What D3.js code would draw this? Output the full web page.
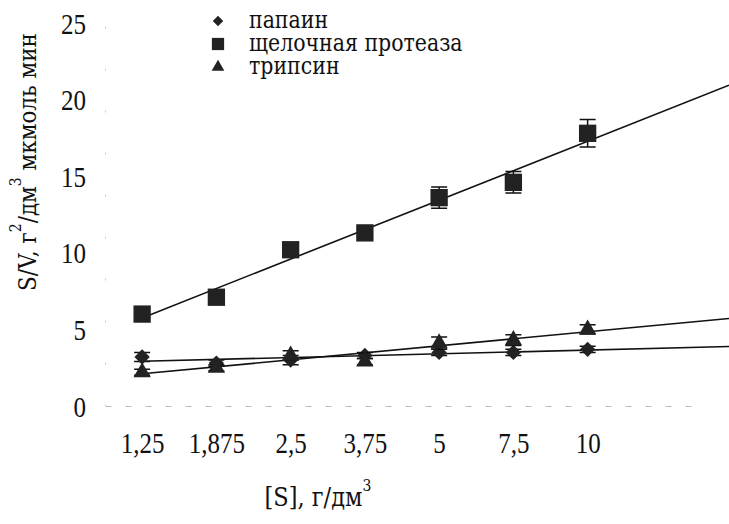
<!DOCTYPE html>
<html>
<head>
<meta charset="utf-8">
<script src="https://cdn.jsdelivr.net/npm/d3@7"></script>
<style>
  body { margin: 0; background: #fff; }
</style>
</head>
<body>
<script>
  "use strict";

  // categories on the x axis, [S] in g/dm3
  var categories = ["1,25", "1,875", "2,5", "3,75", "5", "7,5", "10"];

  // S/V values and error bars
  var papain      = [3.2, 2.8, 3.0, 3.3, 3.5, 3.5, 3.7];
  var papainErr   = [0.3, 0.2, 0.3, 0.2, 0.2, 0.2, 0.2];
  var protease    = [6.0, 7.1, 10.2, 11.3, 13.6, 14.6, 17.8];
  var proteaseErr = [0.3, 0.3, 0.3, 0.3, 0.7, 0.7, 0.9];
  var trypsin     = [2.2, 2.5, 3.3, 2.9, 4.1, 4.3, 5.0];
  var trypsinErr  = [0.2, 0.2, 0.3, 0.2, 0.4, 0.35, 0.3];

  var yTicks = [0, 5, 10, 15, 20, 25];

  var width = 729, height = 524;
  var serif = "'Tinos'";            // digits
  var cyr = "'DejaVu Serif'";       // texts with cyrillic letters

  var svg = d3.select("body")
    .append("svg")
      .attr("width", width)
      .attr("height", height);

  // index based x scale: one slot per category, an empty slot at the end
  var x = d3.scaleLinear().domain([-0.5, 7.5]).range([105, 699]);
  var y = d3.scaleLinear().domain([0, 25]).range([406, 23]);

  // faint scanned axes
  var xAxis = d3.axisBottom(x)
    .tickValues(d3.range(categories.length))
    .tickFormat(function(i) { return categories[i]; })
    .tickSize(0);
  var gx = svg.append("g")
    .attr("transform", "translate(0," + y(0) + ")")
    .call(xAxis);
  gx.attr("font-family", null);
  gx.select(".domain")
    .attr("stroke", "#bbb")
    .attr("stroke-dasharray", "6,14");
  gx.selectAll("text")
    .attr("y", null).attr("dy", null)
    .attr("transform", "translate(0,47) scale(1,1.2)")
    .style("font-size", "25px")
    .style("font-family", serif)
    .style("fill", "#111");

  var yAxis = d3.axisLeft(y).tickValues(yTicks).tickSize(0);
  var gy = svg.append("g")
    .attr("transform", "translate(" + x(-0.5) + ",0)")
    .call(yAxis);
  gy.attr("font-family", null);
  gy.select(".domain")
    .attr("stroke", "#ccc")
    .attr("stroke-dasharray", "2,40");
  gy.selectAll("text")
    .attr("x", null).attr("dy", null)
    .attr("transform", "translate(-19,10) scale(1,1.2)")
    .style("font-size", "25px")
    .style("font-family", serif)
    .style("fill", "#111");

  // series
  var series = [
    { name: "папаин", values: papain, err: papainErr, symbol: d3.symbolDiamond2, size: 150 },
    { name: "щелочная протеаза", values: protease, err: proteaseErr, symbol: d3.symbolSquare, size: 300 },
    { name: "трипсин", values: trypsin, err: trypsinErr, symbol: d3.symbolTriangle, size: 130 }
  ];

  // least squares trend line over category index, drawn to the right edge
  function fit(vals) {
    var n = vals.length, mx = (n - 1) / 2, my = d3.mean(vals);
    var sxy = d3.sum(vals, function(v, i) { return (i - mx) * (v - my); });
    var sxx = d3.sum(vals, function(v, i) { return (i - mx) * (i - mx); });
    var b = sxy / sxx;
    return function(i) { return my + b * (i - mx); };
  }

  var xEnd = x.invert(width);
  var line = d3.line()
    .x(function(d) { return x(d[0]); })
    .y(function(d) { return y(d[1]); });

  series.forEach(function(s) {
    var f = fit(s.values);
    svg.append("path")
      .attr("d", line([[0, f(0)], [xEnd, f(xEnd)]]))
      .attr("fill", "none")
      .attr("stroke", "#111")
      .attr("stroke-width", 1.6);

    var g = svg.append("g");
    var pts = s.values.map(function(v, i) { return { i: i, v: v, e: s.err[i] }; });

    // error bars
    g.selectAll(".err")
      .data(pts).enter()
      .append("path")
        .attr("d", function(d) {
          var cx = x(d.i), t = y(d.v + d.e), b = y(d.v - d.e);
          return "M" + (cx - 8) + "," + t + "H" + (cx + 8) +
                 "M" + cx + "," + t + "V" + b +
                 "M" + (cx - 8) + "," + b + "H" + (cx + 8);
        })
        .attr("stroke", "#111")
        .attr("stroke-width", 1.5)
        .attr("fill", "none");

    g.selectAll(".mark")
      .data(pts).enter()
      .append("path")
        .attr("transform", function(d) { return "translate(" + x(d.i) + "," + y(d.v) + ")"; })
        .attr("d", d3.symbol().type(s.symbol).size(s.size))
        .attr("fill", "#222");
  });

  // legend
  var legend = svg.append("g").attr("transform", "translate(218,0)");
  var rows = [21, 44, 67];
  series.forEach(function(s, k) {
    legend.append("path")
      .attr("transform", "translate(0," + rows[k] + ")")
      .attr("d", d3.symbol().type(s.symbol).size(k === 1 ? 150 : 70))
      .attr("fill", "#222");
    legend.append("text")
      .attr("transform", "translate(31," + (rows[k] + 7) + ") scale(1,1.15)")
      .style("font-family", cyr)
      .style("font-size", "20.5px")
      .style("fill", "#111")
      .text(s.name);
  });

  // axis titles
  var xt = svg.append("text")
    .attr("transform", "translate(318,506) scale(1,1.15)")
    .attr("text-anchor", "middle")
    .style("font-family", cyr)
    .style("font-size", "22.5px")
    .style("fill", "#111");
  xt.append("tspan").text("[S], г/дм");
  xt.append("tspan").attr("dy", -13).style("font-size", "14px").text("3");

  var yt = svg.append("text")
    .attr("transform", "translate(36,162) rotate(-90) scale(1,1.15)")
    .attr("text-anchor", "middle")
    .style("font-family", cyr)
    .style("font-size", "21.5px")
    .style("fill", "#111");
  yt.append("tspan").text("S/V, г");
  yt.append("tspan").attr("dy", -13).style("font-size", "14px").text("2");
  yt.append("tspan").attr("dy", 13).text("/дм");
  yt.append("tspan").attr("dy", -13).style("font-size", "14px").text("3");
  yt.append("tspan").attr("dy", 13).text(" мкмоль мин");
</script>
</body>
</html>
